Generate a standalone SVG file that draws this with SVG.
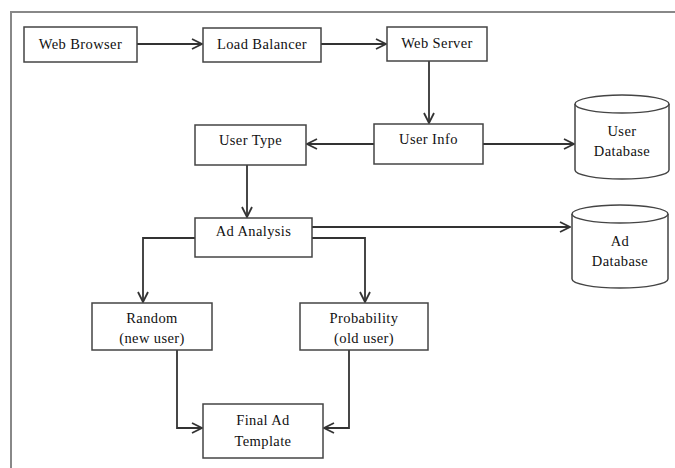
<svg xmlns="http://www.w3.org/2000/svg" width="675" height="468" viewBox="0 0 675 468">
<style>
.box{fill:#fff;stroke:#444;stroke-width:1.5}
.db{fill:#fff;stroke:#444;stroke-width:1.5}
text{font-family:'Liberation Serif','DejaVu Serif','Times New Roman',serif;font-size:14.5px;letter-spacing:0.4px;fill:#111;text-anchor:middle}
.c{fill:none;stroke:#333;stroke-width:1.8}
</style>
<defs>
<marker id="ah" viewBox="0 0 12 12" refX="11" refY="6" markerWidth="12" markerHeight="12" markerUnits="userSpaceOnUse" orient="auto">
<path d="M1,1 L11,6 L1,11" fill="none" stroke="#333" stroke-width="1.8"/>
</marker>
</defs>
<rect width="675" height="468" fill="#fff"/>
<path d="M11,468 V12 H675" fill="none" stroke="#888" stroke-width="2"/>
<g id="connectors">
<path class="c" d="M137,44 H202" marker-end="url(#ah)"/>
<path class="c" d="M321,44 H386" marker-end="url(#ah)"/>
<path class="c" d="M429,61 V123" marker-end="url(#ah)"/>
<path class="c" d="M374,144 H307" marker-end="url(#ah)"/>
<path class="c" d="M483,144 H574" marker-end="url(#ah)"/>
<path class="c" d="M247,165 V217" marker-end="url(#ah)"/>
<path class="c" d="M312,227 H570" marker-end="url(#ah)"/>
<path class="c" d="M195,238 H143 V302" marker-end="url(#ah)"/>
<path class="c" d="M312,238 H365 V302" marker-end="url(#ah)"/>
<path class="c" d="M177,350 V428 H202" marker-end="url(#ah)"/>
<path class="c" d="M349,350 V428 H324" marker-end="url(#ah)"/>
</g>
<g id="web-browser"><rect class="box" x="24" y="27" width="113" height="35"/><text x="80.5" y="49">Web Browser</text></g>
<g id="load-balancer"><rect class="box" x="203" y="28" width="118" height="34"/><text x="262" y="49">Load Balancer</text></g>
<g id="web-server"><rect class="box" x="387" y="27" width="100" height="34"/><text x="437" y="48">Web Server</text></g>
<g id="user-info"><rect class="box" x="374" y="124" width="109" height="40"/><text x="428.5" y="144">User Info</text></g>
<g id="user-type"><rect class="box" x="195" y="125" width="111" height="40"/><text x="250.5" y="145">User Type</text></g>
<g id="user-database">
<path class="db" d="M575,104 V170 A47,9 0 0 0 669,170 V104"/>
<ellipse class="db" cx="622" cy="104" rx="47" ry="9"/>
<text x="622" y="136">User</text><text x="622" y="156">Database</text>
</g>
<g id="ad-analysis"><rect class="box" x="195" y="218" width="117" height="39"/><text x="253.5" y="236">Ad Analysis</text></g>
<g id="ad-database">
<path class="db" d="M572,214 V279 A48,9 0 0 0 668,279 V214"/>
<ellipse class="db" cx="620" cy="214" rx="48" ry="9"/>
<text x="620" y="246">Ad</text><text x="620" y="266">Database</text>
</g>
<g id="random"><rect class="box" x="92" y="303" width="120" height="47"/><text x="152" y="323">Random</text><text x="152" y="343">(new user)</text></g>
<g id="probability"><rect class="box" x="300" y="303" width="128" height="47"/><text x="364" y="323">Probability</text><text x="364" y="343">(old user)</text></g>
<g id="final-ad-template"><rect class="box" x="203" y="404" width="120" height="54"/><text x="263" y="425">Final Ad</text><text x="263" y="446">Template</text></g>
</svg>
